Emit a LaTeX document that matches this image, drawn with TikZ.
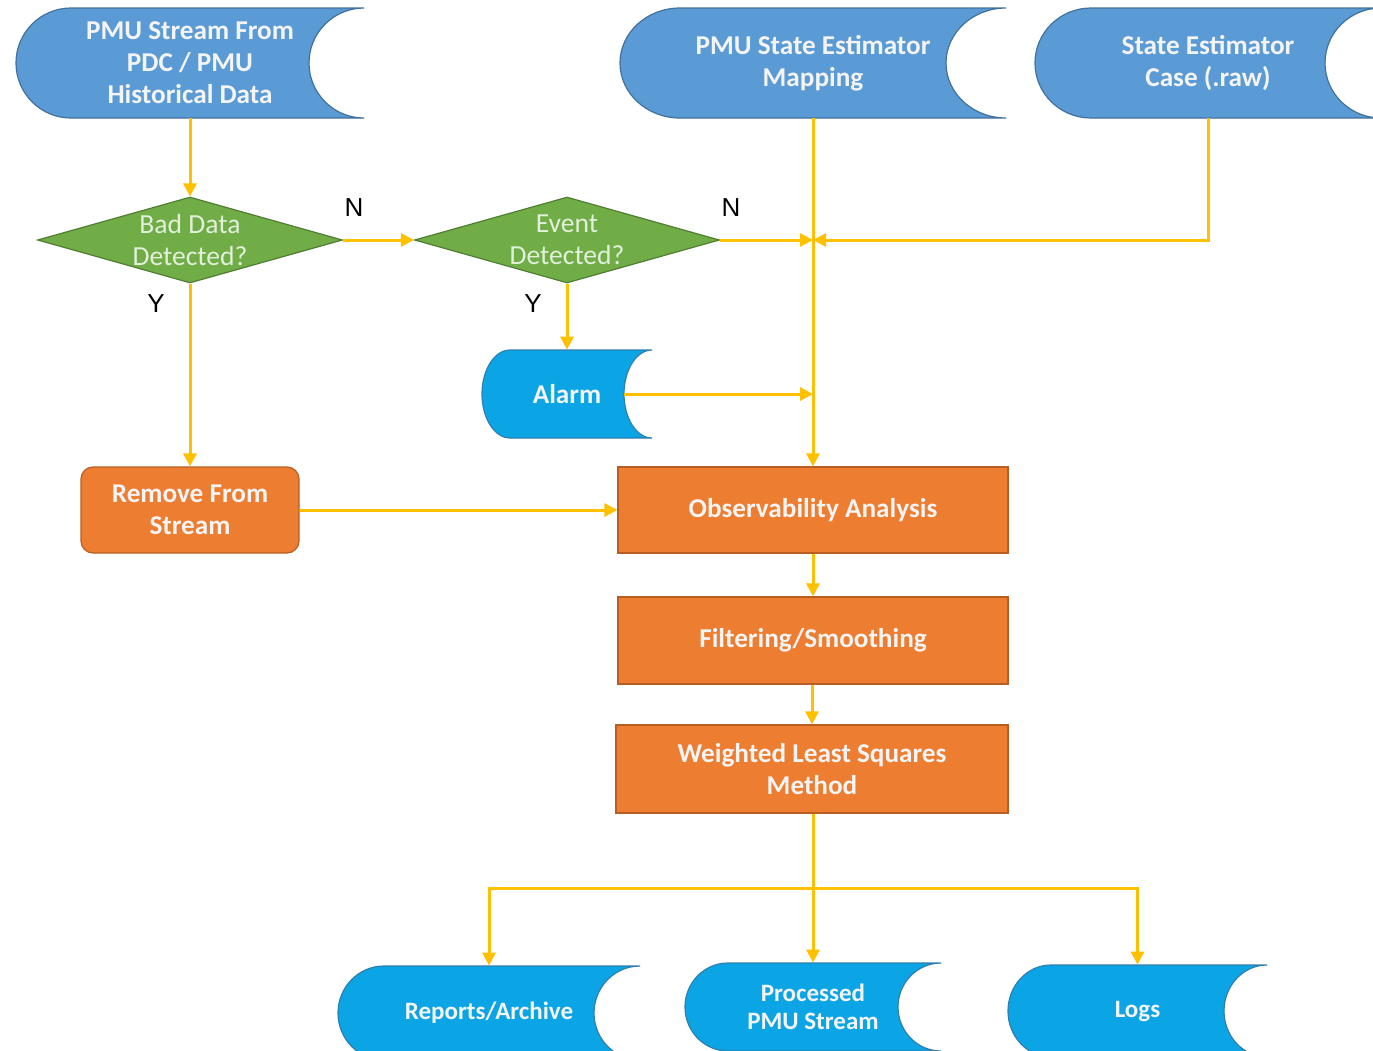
\documentclass[tikz,border=0pt]{standalone}
\usepackage{fontspec}
\setmainfont{Carlito}
\newfontfamily\labfont{Liberation Sans}
\usetikzlibrary{arrows.meta,shapes.geometric}

\definecolor{sblue}{HTML}{5B9BD5}
\definecolor{sblueline}{HTML}{41719C}
\definecolor{cblue}{HTML}{0BA5E6}
\definecolor{cblueline}{HTML}{2E7FB0}
\definecolor{orng}{HTML}{ED7D31}
\definecolor{orngline}{HTML}{B85E22}
\definecolor{grn}{HTML}{70AD47}
\definecolor{grnline}{HTML}{507E32}
\definecolor{flow}{HTML}{FFC000}
\definecolor{txtw}{HTML}{F4F4F4}
\definecolor{txtg}{HTML}{E2EFDA}

\tikzset{
  topstore/.style={fill=sblue, draw=sblueline, line width=0.6pt},
  botstore/.style={fill=cblue, draw=cblueline, line width=0.6pt},
  sdtext/.style={font=\bfseries\fontsize{13.6}{16}\selectfont, text=txtw, align=center, inner sep=0pt},
  sdsmall/.style={font=\bfseries\fontsize{12.5}{14}\selectfont, text=txtw, align=center, inner sep=0pt},
  procbox/.style={rectangle, fill=orng, draw=orngline, line width=0.6pt, inner sep=0pt,
    font=\bfseries\fontsize{13.6}{16}\selectfont, text=txtw, align=center},
  decision/.style={diamond, fill=grn, draw=grnline, line width=0.6pt, inner sep=0pt,
    minimum width=152.5pt, minimum height=43pt},
  dtext/.style={font=\fontsize{13.8}{16}\selectfont, text=txtg, align=center, inner sep=0pt},
  yn/.style={font=\labfont\fontsize{13}{14}\selectfont, text=black},
  link/.style={draw=flow, line width=1.5pt, -{Triangle[length=6.5pt,width=6.5pt]}},
  plain/.style={draw=flow, line width=1.5pt},
}

% Stored-data symbol: convex left end, concave right end.
% #1 name, #2 left, #3 top, #4 right, #5 bottom, #6 end depth, #7 fill style, #8 text style, #9 text
\newcommand\storeddata[9]{%
  \pgfmathsetmacro\sdMid{(#3+#5)/2}%
  \pgfmathsetmacro\sdK{0.5523*#6}%
  \pgfmathsetmacro\sdH{0.5523*(#5-#3)/2}%
  \draw[#7] (#2+#6,#3) -- (#4,#3)
     .. controls (#4-\sdK,#3) and (#4-#6,\sdMid-\sdH) .. (#4-#6,\sdMid)
     .. controls (#4-#6,\sdMid+\sdH) and (#4-\sdK,#5) .. (#4,#5)
     -- (#2+#6,#5)
     .. controls (#2+#6-\sdK,#5) and (#2,\sdMid+\sdH) .. (#2,\sdMid)
     .. controls (#2,\sdMid-\sdH) and (#2+#6-\sdK,#3) .. cycle;
  \node[#8, minimum width={(#4-#2)*0.5pt}, minimum height={(#5-#3)*0.5pt}] (#1) at ({(#2+#4)/2},\sdMid) {#9};
  \coordinate (#1-cut) at (#4-#6,\sdMid);
}

\begin{document}
\begin{tikzpicture}[x=0.5pt, y=-0.5pt]
  \useasboundingbox (0,0) rectangle (1373,1051);
  \clip (0,0) rectangle (1373,1051);
  \fill[white] (0,0) rectangle (1373,1051);

  % data sources
  \storeddata{src}{16}{8}{364}{118}{55}{topstore}{sdtext}{PMU Stream From\\PDC / PMU\\Historical Data}
  \storeddata{map}{620}{8}{1006}{118}{60}{topstore}{sdtext}{PMU State Estimator\\Mapping}
  \storeddata{case}{1035}{8}{1381}{118}{56}{topstore}{sdtext}{State Estimator\\Case (.raw)}

  % decisions
  \node[decision] (bad) at (190,240) {};
  \node[dtext] at (bad) {Bad Data\\Detected?};
  \node[decision] (evt) at (567,240) {};
  \node[dtext] at (evt) {Event\\Detected?};

  \storeddata{alarm}{482}{350}{652}{438}{28}{botstore}{sdtext}{Alarm}

  % processing steps
  \node[procbox, rounded corners=6pt, minimum width=109pt, minimum height=43pt] (rm) at (190,510) {Remove From\\Stream};
  \node[procbox, minimum width=195pt, minimum height=43pt] (obs) at (813,510) {Observability Analysis};
  \node[procbox, minimum width=195pt, minimum height=43.5pt] (filt) at (813,640.5) {Filtering/Smoothing};
  \node[procbox, minimum width=196pt, minimum height=44pt] (wls) at (812,769) {Weighted Least Squares\\Method};

  % outputs
  \storeddata{rep}{338}{966}{640}{1060}{46}{botstore}{sdsmall}{Reports/Archive}
  \storeddata{proc}{685}{963}{941}{1051}{43}{botstore}{sdsmall}{Processed\\PMU Stream}
  \storeddata{logs}{1008}{965}{1267}{1057}{43}{botstore}{sdsmall}{Logs}

  % junction points on the main trunk
  \coordinate (j1) at (evt.east -| map.south);
  \coordinate (j2) at (alarm-cut -| map.south);
  \coordinate (split) at (813,888);

  % connectors
  \draw[link] (map.south) -- (obs.north);
  \draw[link] (src.south) -- (bad.north);
  \draw[link] (bad.east) -- (evt.west);
  \draw[link] (evt.east) -- (j1);
  \draw[link] (case.south) |- (j1);
  \draw[link] (evt.south) -- (alarm.north);
  \draw[link] (alarm-cut) -- (j2);
  \draw[link] (bad.south) -- (rm.north);
  \draw[link] (rm.east) -- (obs.west);
  \draw[link] (obs.south) -- (filt.north);
  \draw[link] (filt.south -| wls.north) -- (wls.north);
  \draw[plain] (wls.south -| split) -- (split);
  \draw[link] (split) -| (rep.north);
  \draw[link] (split) -| (logs.north);
  \draw[link] (split) -- (proc.north);

  % branch labels
  \node[yn] (n1) at (354,208) {N};
  \node[yn] (n2) at (731,208) {N};
  \node[yn] (y1) at (156,304) {Y};
  \node[yn] (y2) at (533,304) {Y};
\end{tikzpicture}
\end{document}
